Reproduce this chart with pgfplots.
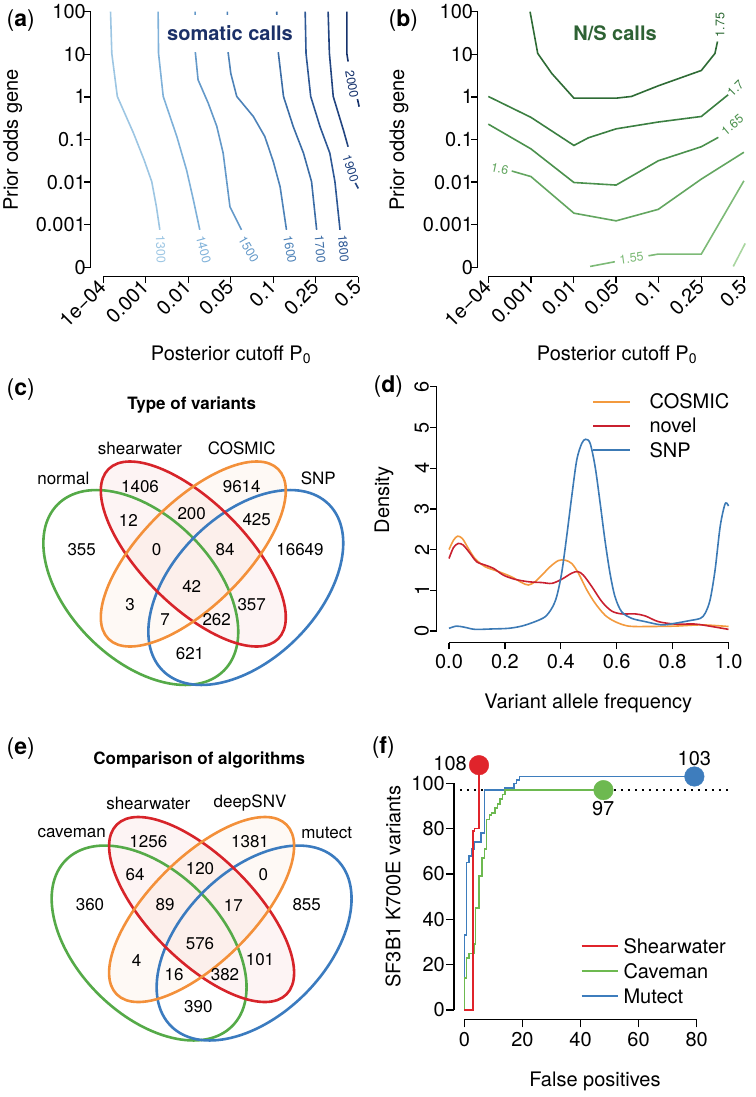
\documentclass[border=0pt]{standalone}
\usepackage{pgfplots}
\pgfplotsset{compat=1.18}
\usepackage{pgfplotstable}
\usepackage{fontspec}
\setmainfont{TeX Gyre Heros}
\newcommand\fbig{\fontsize{20}{24}\selectfont}
\newcommand\fven{\fontsize{17}{20}\selectfont}
\newcommand\fsm{\fontsize{12.5}{14}\selectfont}
\newcommand\fpan{\fontsize{23}{26}\selectfont}
% panel a blues
\definecolor{aA}{HTML}{9DC6E3}
\definecolor{aB}{HTML}{7FB1D9}
\definecolor{aC}{HTML}{6499C9}
\definecolor{aD}{HTML}{4D82B8}
\definecolor{aE}{HTML}{3C6DA6}
\definecolor{aF}{HTML}{2E5895}
\definecolor{aG}{HTML}{224480}
\definecolor{aH}{HTML}{16326C}
\definecolor{aT}{HTML}{1B3068}
% panel b greens
\definecolor{bA}{HTML}{2E6B35}
\definecolor{bB}{HTML}{3B7F41}
\definecolor{bC}{HTML}{4B914D}
\definecolor{bD}{HTML}{63A660}
\definecolor{bE}{HTML}{7DBA77}
\definecolor{bF}{HTML}{A9D6A0}
\definecolor{bT}{HTML}{2E6234}
% venn / others
\definecolor{vg}{HTML}{55AA48}
\definecolor{vr}{HTML}{D7242A}
\definecolor{vo}{HTML}{F3903A}
\definecolor{vb}{HTML}{3B7BBF}
\definecolor{dO}{HTML}{F39A3E}
\definecolor{dR}{HTML}{C9202F}
\definecolor{dB}{HTML}{3C7AB5}
\definecolor{fR}{HTML}{E0242B}
\definecolor{fG}{HTML}{6DB950}
\definecolor{fB}{HTML}{3E7DBD}

\pgfplotstableread{
x y n
140 486.7 1406
241.7 486.7 9614
128.3 520 12
191.7 513.3 200
256.7 520 425
81.7 550 355
156.7 550 0
225 550 84
300 550 16649
191.7 586.7 42
130 605 3
251.7 605 357
165 620 7
216.7 620 262
190 653.3 621
}\vennc

\pgfplotstableread{
x y n
148.3 841.7 1256
250 841.7 1381
135 875 64
200 868.3 120
263.3 875 0
90 905 360
165 905 89
233.3 905 17
306.7 905 855
200 943.3 576
136.7 960 4
260 960 101
174 975 16
225 975 382
198.3 1006.7 390
}\venne

\pgfplotsset{
  rstyle/.style={
    anchor=south west,
    axis x line*=bottom, axis y line*=left,
    axis line style={draw=none},
    tick align=outside,
    major tick length=6.5pt,
    minor tick num=0,
    tick style={black, line width=1.3pt},
    tick label style={font=\fbig, inner sep=1pt},
    clip=false,
    every axis plot/.append style={mark=none},
  },
}

\begin{document}
\begin{tikzpicture}
\path[use as bounding box] (0,0) rectangle (755pt,1097pt);

% ---------------- (a) ----------------
\begin{axis}[rstyle, at={(90.55pt,820.33pt)}, x=42.5pt, y=42.6pt,
  xmin=-0.3, xmax=6.3, ymin=-0.22, ymax=6.25,
  xtick={0,1,2,3,4,5,6}, xticklabels={1e−04,0.001,0.01,0.05,0.1,0.25,0.5},
  ytick={0,1,2,3,4,5,6}, yticklabels={0,0.001,0.01,0.1,1,10,100},
  xticklabel style={rotate=45, anchor=east},
  yticklabel style={xshift=3pt},
]
\draw[black, line width=1.3pt] (axis cs:-0.3,0) -- (axis cs:-0.3,6);
\draw[black, line width=1.3pt] (axis cs:0,-0.22) -- (axis cs:6,-0.22);
\addplot[aA, line width=1.6pt] coordinates {(0.17,6) (0.20,5.02) (0.33,4.01) (0.71,3.15) (0.96,2.52) (1.14,2.01) (1.25,1.42) (1.33,0.88)};
\addplot[aB, line width=1.6pt] coordinates {(1.29,6) (1.30,5.02) (1.41,4.01) (1.73,3.07) (1.96,2.28) (2.12,1.58) (2.27,0.88)};
\addplot[aC, line width=1.6pt] coordinates {(2.16,6) (2.16,5.10) (2.23,4.40) (2.47,3.85) (2.67,3.31) (2.82,2.68) (2.98,1.42) (3.25,0.88)};
\addplot[aD, line width=1.6pt] coordinates {(2.92,6) (2.93,5.10) (3.0,4.55) (3.14,4.01) (3.53,3.54) (3.80,3.07) (4.0,2.48) (4.16,1.89) (4.31,0.88)};
\addplot[aE, line width=1.6pt] coordinates {(4.08,6) (4.12,5.02) (4.24,4.01) (4.47,3.30) (4.71,2.68) (4.90,2.01) (5.02,0.88)};
\addplot[aF, line width=1.6pt] coordinates {(4.75,6) (4.77,5.02) (4.88,4.01) (5.10,3.30) (5.33,2.68) (5.45,2.01) (5.57,0.88)};
\addplot[aG, line width=1.6pt] coordinates {(5.29,6) (5.32,5.02) (5.41,4.01) (5.65,3.22) (5.76,2.83)};
\addplot[aG, line width=1.6pt] coordinates {(5.93,1.98) (6.0,1.85)};
\addplot[aH, line width=1.6pt] coordinates {(5.73,6) (5.73,5.02) (5.76,4.83)};
\addplot[aH, line width=1.6pt] coordinates {(5.98,3.95) (6.02,3.77)};
\node[text=aA, font=\fsm, rotate=-88, inner sep=0pt] at (axis cs:1.35,0.42) {1300};
\node[text=aB, font=\fsm, rotate=-75, inner sep=0pt] at (axis cs:2.36,0.42) {1400};
\node[text=aC, font=\fsm, rotate=-60, inner sep=0pt] at (axis cs:3.42,0.42) {1500};
\node[text=aD, font=\fsm, rotate=-80, inner sep=0pt] at (axis cs:4.39,0.42) {1600};
\node[text=aE, font=\fsm, rotate=-85, inner sep=0pt] at (axis cs:5.10,0.42) {1700};
\node[text=aF, font=\fsm, rotate=-85, inner sep=0pt] at (axis cs:5.65,0.44) {1800};
\node[text=aG, font=\fsm, rotate=-72, inner sep=0pt] at (axis cs:5.82,2.32) {1900};
\node[text=aH, font=\fsm, rotate=-80, inner sep=0pt] at (axis cs:5.85,4.30) {2000};
\end{axis}

% ---------------- (b) ----------------
\begin{axis}[rstyle, at={(477.7pt,820.33pt)}, x=42.6pt, y=42.6pt,
  xmin=-0.249, xmax=6.3, ymin=-0.22, ymax=6.25,
  xtick={0,1,2,3,4,5,6}, xticklabels={1e−04,0.001,0.01,0.05,0.1,0.25,0.5},
  ytick={0,1,2,3,4,5,6}, yticklabels={0,0.001,0.01,0.1,1,10,100},
  xticklabel style={rotate=45, anchor=east},
  yticklabel style={xshift=3pt},
]
\draw[black, line width=1.3pt] (axis cs:-0.249,0) -- (axis cs:-0.249,6);
\draw[black, line width=1.3pt] (axis cs:0,-0.22) -- (axis cs:6,-0.22);
\addplot[bA, line width=1.6pt] coordinates {(0.98,6) (1.16,5.02) (1.49,4.55) (2.01,3.97) (3.0,3.97) (3.36,4.01) (3.99,4.26) (5.0,4.62) (5.32,5.02) (5.38,5.30)};
\addplot[bB, line width=1.6pt] coordinates {(0,4.01) (1.0,3.52) (2.01,2.86) (2.35,3.04) (3.0,3.25) (3.99,3.41) (5.0,3.54) (5.63,4.05)};
\addplot[bC, line width=1.6pt] coordinates {(0,3.36) (1.0,2.78) (2.01,1.99) (3.0,1.93) (3.99,2.50) (5.0,2.83) (5.40,3.05)};
\addplot[bD, line width=1.6pt] coordinates {(0.55,2.26) (1.0,2.13) (2.01,1.27) (3.0,1.09) (3.99,1.36) (5.0,2.07) (6.0,2.70)};
\addplot[bE, line width=1.6pt] coordinates {(2.39,0.02) (2.97,0.13)};
\addplot[bE, line width=1.6pt] coordinates {(3.76,0.27) (3.99,0.31) (5.0,0.31) (6.0,2.03)};
\addplot[bF, line width=1.6pt] coordinates {(5.75,0.02) (6.03,0.56)};
\node[text=bA, font=\fsm, rotate=90, inner sep=0pt] at (axis cs:5.44,5.69) {1.75};
\node[text=bB, font=\fsm, rotate=45, inner sep=0pt] at (axis cs:5.80,4.20) {1.7};
\node[text=bC, font=\fsm, rotate=40, inner sep=0pt] at (axis cs:5.73,3.34) {1.65};
\node[text=bD, font=\fsm, rotate=-12, inner sep=0pt] at (axis cs:0.27,2.31) {1.6};
\node[text=bE, font=\fsm, rotate=8, inner sep=0pt] at (axis cs:3.36,0.21) {1.55};
\end{axis}

% ---------------- (d) ----------------
\begin{axis}[rstyle, at={(436.7pt,454.3pt)}, x=279.5pt, y=40.7pt,
  xmin=-0.044, xmax=1.04, ymin=-0.2875, ymax=6.2,
  xtick={0,0.2,0.4,0.6,0.8,1}, xticklabels={0.0,0.2,0.4,0.6,0.8,1.0},
  ytick={0,1,2,3,4,5,6}, yticklabels={0,1,2,3,4,5,6},
  yticklabel style={rotate=90, anchor=south},
  xticklabel style={yshift=-4pt},
]
\draw[black, line width=1.3pt] (axis cs:-0.044,0) -- (axis cs:-0.044,6);
\draw[black, line width=1.3pt] (axis cs:0,-0.2875) -- (axis cs:1,-0.2875);
\addplot[dO, line width=1.6pt, smooth] coordinates {(0,2.0) (0.016,2.23) (0.031,2.33) (0.048,2.27) (0.069,2.03) (0.093,1.78) (0.129,1.58) (0.177,1.46) (0.224,1.33) (0.260,1.19) (0.284,1.13) (0.308,1.21) (0.332,1.37) (0.362,1.58) (0.391,1.73) (0.415,1.74) (0.439,1.66) (0.463,1.42) (0.493,1.01) (0.523,0.68) (0.558,0.39) (0.594,0.23) (0.642,0.12) (0.714,0.11) (0.809,0.12) (0.905,0.15) (1.0,0.11)};
\addplot[dR, line width=1.6pt, smooth] coordinates {(0,1.78) (0.016,2.05) (0.033,2.15) (0.051,2.11) (0.075,1.91) (0.099,1.70) (0.129,1.62) (0.159,1.54) (0.195,1.37) (0.236,1.27) (0.284,1.21) (0.332,1.19) (0.368,1.17) (0.403,1.27) (0.439,1.42) (0.461,1.46) (0.481,1.37) (0.511,1.09) (0.547,0.72) (0.582,0.49) (0.618,0.42) (0.666,0.42) (0.702,0.37) (0.749,0.23) (0.809,0.17) (0.881,0.17) (0.940,0.11) (1.0,0.04)};
\addplot[dB, line width=1.6pt, smooth] coordinates {(0,0.065) (0.027,0.12) (0.057,0.09) (0.093,0.04) (0.153,0.05) (0.212,0.065) (0.26,0.12) (0.308,0.23) (0.344,0.35) (0.368,0.56) (0.385,0.84) (0.403,1.42) (0.421,2.32) (0.439,3.30) (0.457,4.20) (0.475,4.61) (0.489,4.71) (0.505,4.61) (0.523,4.03) (0.541,3.13) (0.558,2.23) (0.576,1.42) (0.594,0.84) (0.618,0.47) (0.654,0.31) (0.702,0.23) (0.761,0.15) (0.809,0.19) (0.857,0.25) (0.899,0.31) (0.916,0.43) (0.934,0.76) (0.952,1.50) (0.970,2.56) (0.986,3.09) (0.994,3.14) (1.0,3.07)};
\end{axis}

% ---------------- (f) ----------------
\begin{axis}[rstyle, at={(454pt,77.7pt)}, x=2.905pt, y=2.267pt,
  xmin=-3.55, xmax=92, ymin=-4.1, ymax=112,
  major tick length=8pt,
  xtick={0,20,40,60,80}, xticklabels={0,20,40,60,80},
  ytick={0,20,40,60,80,100}, yticklabels={0,20,40,60,80,100},
  xticklabel style={yshift=-4pt},
]
\draw[black, line width=1.3pt] (axis cs:-3.55,0) -- (axis cs:-3.55,100);
\draw[black, line width=1.3pt] (axis cs:0,-4.1) -- (axis cs:80,-4.1);
\addplot[black, line width=1.4pt, dash pattern=on 1.6pt off 5.4pt] coordinates {(-1.5,97) (92,97)};
\addplot[fB, line width=1.6pt] coordinates {(0,0) (0,33) (0.8,33) (0.8,65) (1.7,65) (1.7,68) (2.5,68) (2.5,71) (3.4,71) (3.4,74) (5.7,74) (5.7,78) (7,78) (7,97) (14,97) (14,98) (17,98) (17,100) (18,100) (18,101.5) (19,101.5) (19,103) (79,103)};
\addplot[fG, line width=1.6pt] coordinates {(0,0) (0,14) (0.8,14) (0.8,23) (1.7,23) (1.7,25) (3.4,25) (3.4,29) (3.9,29) (3.9,45) (5.05,45) (5.05,59) (6,59) (6,67) (6.9,67) (6.9,71) (7.7,71) (7.7,84) (8.6,84) (8.6,86) (9.4,86) (9.4,87) (10.6,87) (10.6,89) (11.4,89) (11.4,91) (12.3,91) (12.3,93) (13.2,93) (13.2,95) (14,95) (14,97) (48,97)};
\addplot[fR, line width=1.6pt] coordinates {(0,0) (2.9,0) (2.9,79) (3.5,79) (3.5,80) (5.05,80) (5.05,108)};
\addplot[only marks, mark=*, mark size=9.8pt, fR, mark options={draw=none, fill=fR}] coordinates {(5.05,108)};
\addplot[only marks, mark=*, mark size=9.8pt, fG, mark options={draw=none, fill=fG}] coordinates {(47.9,97)};
\addplot[only marks, mark=*, mark size=9.8pt, fB, mark options={draw=none, fill=fB}] coordinates {(79.2,103)};
\node[font=\fbig, inner sep=0pt] at (axis cs:-4.9,108.8) {108};
\node[font=\fbig, inner sep=0pt] at (axis cs:47.8,89) {97};
\node[font=\fbig, inner sep=0pt] at (axis cs:79.2,111) {103};
\end{axis}

% ---------------- canvas (venns, texts) ----------------
\begin{axis}[at={(0pt,0pt)}, anchor=south west, x=1pt, y=1pt, y dir=reverse,
  xmin=0, xmax=755, ymin=0, ymax=1097, hide axis, clip=false]
% (c) venn
\fill[vr, fill opacity=0.05, rotate around={-45:(axis cs:193.3,554)}] (axis cs:193.3,554) ellipse [x radius=120pt, y radius=52pt];
\fill[vo, fill opacity=0.05, rotate around={45:(axis cs:193.3,554)}] (axis cs:193.3,554) ellipse [x radius=120pt, y radius=52pt];
\draw[vg, line width=2.6pt, rotate around={-45:(axis cs:140.8,587.5)}] (axis cs:140.8,587.5) ellipse [x radius=117.5pt, y radius=72pt];
\draw[vb, line width=2.6pt, rotate around={45:(axis cs:245.8,587.5)}] (axis cs:245.8,587.5) ellipse [x radius=117.5pt, y radius=72pt];
\draw[vr, line width=2.6pt, rotate around={-45:(axis cs:193.3,554)}] (axis cs:193.3,554) ellipse [x radius=120pt, y radius=52pt];
\draw[vo, line width=2.6pt, rotate around={45:(axis cs:193.3,554)}] (axis cs:193.3,554) ellipse [x radius=120pt, y radius=52pt];
% (e) venn
\fill[vr, fill opacity=0.05, rotate around={-45:(axis cs:201.6,909.5)}] (axis cs:201.6,909.5) ellipse [x radius=120pt, y radius=52pt];
\fill[vo, fill opacity=0.05, rotate around={45:(axis cs:201.6,909.5)}] (axis cs:201.6,909.5) ellipse [x radius=120pt, y radius=52pt];
\draw[vg, line width=2.6pt, rotate around={-45:(axis cs:149.1,943)}] (axis cs:149.1,943) ellipse [x radius=117.5pt, y radius=72pt];
\draw[vb, line width=2.6pt, rotate around={45:(axis cs:254.1,943)}] (axis cs:254.1,943) ellipse [x radius=117.5pt, y radius=72pt];
\draw[vr, line width=2.6pt, rotate around={-45:(axis cs:201.6,909.5)}] (axis cs:201.6,909.5) ellipse [x radius=120pt, y radius=52pt];
\draw[vo, line width=2.6pt, rotate around={45:(axis cs:201.6,909.5)}] (axis cs:201.6,909.5) ellipse [x radius=120pt, y radius=52pt];
\addplot[only marks, mark=none, point meta=explicit symbolic, nodes near coords,
  every node near coord/.append style={font=\fven, inner sep=0pt, anchor=center}]
  table[x=x, y=y, meta=n] {\vennc};
\addplot[only marks, mark=none, point meta=explicit symbolic, nodes near coords,
  every node near coord/.append style={font=\fven, inner sep=0pt, anchor=center}]
  table[x=x, y=y, meta=n] {\venne};
\begin{scope}[every node/.style={font=\fven, inner sep=0pt}]
\node at (axis cs:140,448.3) {shearwater};
\node at (axis cs:241.7,448.3) {COSMIC};
\node at (axis cs:63.3,478.3) {normal};
\node at (axis cs:318.3,478.3) {SNP};
\node[font=\fven\bfseries] at (axis cs:191.7,405) {Type of variants};
\node at (axis cs:148.3,803.3) {shearwater};
\node at (axis cs:250,803.3) {deepSNV};
\node at (axis cs:71.7,833.3) {caveman};
\node at (axis cs:326.7,833.3) {mutect};
\node[font=\fven\bfseries] at (axis cs:199.3,760) {Comparison of algorithms};
\end{scope}
% panel letters
\begin{scope}[every node/.style={font=\fpan, inner sep=0pt}]
\node at (axis cs:20.8,20.7) {(\textbf{a})};
\node at (axis cs:403.3,20.7) {(\textbf{b})};
\node at (axis cs:20.8,390) {(\textbf{c})};
\node at (axis cs:388.3,387) {(\textbf{d})};
\node at (axis cs:20.8,749) {(\textbf{e})};
\node at (axis cs:383.3,748) {(\textbf{f})};
\end{scope}
% titles a/b
\node[font=\fbig\bfseries, text=aT, fill=white, inner xsep=3pt, inner ysep=11pt] at (axis cs:230,33.3) {somatic calls};
\node[font=\fbig\bfseries, text=bT, inner sep=0pt] at (axis cs:615,33.3) {N/S calls};
% axis labels
\begin{scope}[every node/.style={font=\fbig, inner sep=0pt}]
\node[rotate=90] at (axis cs:12.7,140) {Prior odds gene};
\node[rotate=90] at (axis cs:399,140) {Prior odds gene};
\node at (axis cs:231,355) {Posterior cutoff P\textsubscript{0}};
\node at (axis cs:617,355) {Posterior cutoff P\textsubscript{0}};
\node[rotate=90] at (axis cs:384,500) {Density};
\node at (axis cs:588.3,703.3) {Variant allele frequency};
\node[rotate=90] at (axis cs:393,886.7) {SF3B1 K700E variants};
\node at (axis cs:595,1081.7) {False positives};
% legend d
\draw[dO, line width=1.6pt] (axis cs:593.3,401.7) -- (axis cs:630,401.7);
\draw[dR, line width=1.6pt] (axis cs:593.3,425.7) -- (axis cs:630,425.7);
\draw[dB, line width=1.6pt] (axis cs:593.3,450) -- (axis cs:630,450);
\node[anchor=west] at (axis cs:649.3,401.7) {COSMIC};
\node[anchor=west] at (axis cs:649.3,425.7) {novel};
\node[anchor=west] at (axis cs:649.3,450) {SNP};
% legend f
\draw[fR, line width=1.6pt] (axis cs:581.7,946) -- (axis cs:618.3,946);
\draw[fG, line width=1.6pt] (axis cs:581.7,971) -- (axis cs:618.3,971);
\draw[fB, line width=1.6pt] (axis cs:581.7,996) -- (axis cs:618.3,996);
\node[anchor=west] at (axis cs:623.3,946) {Shearwater};
\node[anchor=west] at (axis cs:623.3,971) {Caveman};
\node[anchor=west] at (axis cs:623.3,996) {Mutect};
\end{scope}
\end{axis}
\end{tikzpicture}
\end{document}
